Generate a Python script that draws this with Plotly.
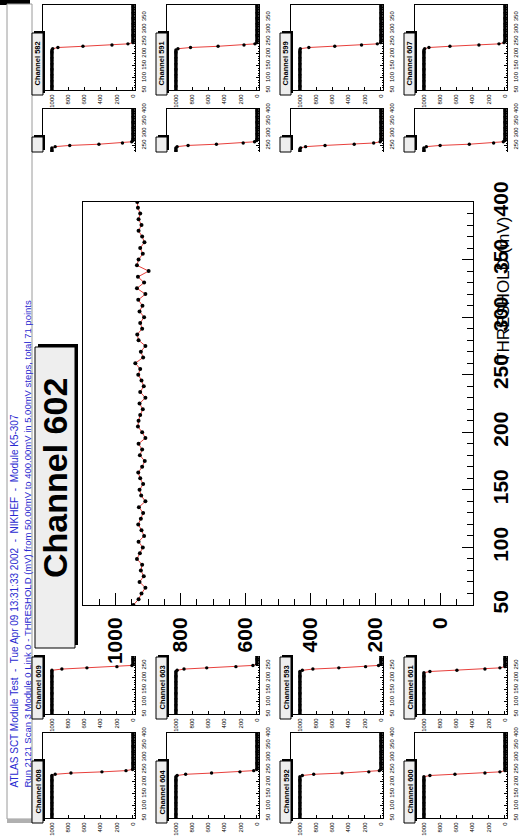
import plotly.graph_objects as go

W, H = 520, 839
RED = "#e8403c"
FONT = "Liberation Sans, Arial, Helvetica, sans-serif"

# ---------------- data ----------------
THRESHOLDS = [
    50, 55, 60, 65, 70, 75, 80, 85, 90, 95,
    100, 105, 110, 115, 120, 125, 130, 135, 140, 145,
    150, 155, 160, 165, 170, 175, 180, 185, 190, 195,
    200, 205, 210, 215, 220, 225, 230, 235, 240, 245,
    250, 255, 260, 265, 270, 275, 280, 285, 290, 295,
    300, 305, 310, 315, 320, 325, 330, 335, 340, 345,
    350, 355, 360, 365, 370, 375, 380, 385, 390, 395,
    400,
]

MAIN_LABEL = "Channel 602"
MAIN_COUNTS = [
    945, 929, 920, 908, 926, 913, 922, 918, 934, 925,
    916, 929, 912, 920, 930, 922, 915, 928, 908, 921,
    926, 915, 924, 930, 918, 910, 925, 918, 929, 908,
    918, 931, 929, 924, 916, 926, 908, 924, 913, 920,
    930, 924, 939, 915, 922, 908, 929, 933, 918, 924,
    912, 926, 917, 930, 908, 934, 912, 931, 898, 934,
    929, 916, 924, 911, 918, 929, 920, 929, 924, 931,
    933,
]

TITLE_LINE1 = "ATLAS SCT Module Test  -  Tue Apr 09 13:31:33 2002  -  NIKHEF  -  Module K5-307"
TITLE_LINE2 = ("Run 2121 Scan 3 Module 0 Link 0 - THRESHOLD (mV) from 50.00mV to 400.00mV "
               "in 5.00mV steps, total 71 points")
X_TITLE = "THRESHOLD (mV)"

COUNT_TICKS = [0, 200, 400, 600, 800, 1000]
THRESH_TICKS = [50, 100, 150, 200, 250, 300, 350, 400]

# neighbouring channels (S-curves)
CH582 = [
    1000, 1000, 1000, 1000, 1000, 1000, 1000, 1000, 1000, 1000,
    1000, 1000, 1000, 1000, 1000, 1000, 1000, 1000, 1000, 1000,
    1000, 1000, 1000, 1000, 1000, 1000, 1000, 1000, 1000, 1000,
    1000, 1000, 1000, 1000, 990, 926, 617, 259, 62, 0,
    0, 0, 0, 0, 0, 0, 0, 0, 0, 0,
    0, 0, 0, 0, 0, 0, 0, 0, 0, 0,
    0, 0, 0, 0, 0, 0, 0, 0, 0, 0,
    0,
]
CH591 = [
    1000, 1000, 1000, 1000, 1000, 1000, 1000, 1000, 1000, 1000,
    1000, 1000, 1000, 1000, 1000, 1000, 1000, 1000, 1000, 1000,
    1000, 1000, 1000, 1000, 1000, 1000, 1000, 1000, 1000, 1000,
    1000, 1000, 1000, 1000, 975, 820, 480, 160, 25, 2,
    0, 0, 0, 0, 0, 0, 0, 0, 0, 0,
    0, 0, 0, 0, 0, 0, 0, 0, 0, 0,
    0, 0, 0, 0, 0, 0, 0, 0, 0, 0,
    0,
]
CH599 = [
    1000, 1000, 1000, 1000, 1000, 1000, 1000, 1000, 1000, 1000,
    1000, 1000, 1000, 1000, 1000, 1000, 1000, 1000, 1000, 1000,
    1000, 1000, 1000, 1000, 1000, 1000, 1000, 1000, 1000, 1000,
    1000, 1000, 1000, 1000, 995, 890, 570, 240, 45, 4,
    0, 0, 0, 0, 0, 0, 0, 0, 0, 0,
    0, 0, 0, 0, 0, 0, 0, 0, 0, 0,
    0, 0, 0, 0, 0, 0, 0, 0, 0, 0,
    0,
]
CH607 = [
    1000, 1000, 1000, 1000, 1000, 1000, 1000, 1000, 1000, 1000,
    1000, 1000, 1000, 1000, 1000, 1000, 1000, 1000, 1000, 1000,
    1000, 1000, 1000, 1000, 1000, 1000, 1000, 1000, 1000, 1000,
    1000, 1000, 1000, 1000, 990, 938, 679, 321, 74, 12,
    0, 0, 0, 0, 0, 0, 0, 0, 0, 0,
    0, 0, 0, 0, 0, 0, 0, 0, 0, 0,
    0, 0, 0, 0, 0, 0, 0, 0, 0, 0,
    0,
]
CH583 = [
    1000, 1000, 1000, 1000, 1000, 1000, 1000, 1000, 1000, 1000,
    1000, 1000, 1000, 1000, 1000, 1000, 1000, 1000, 1000, 1000,
    1000, 1000, 1000, 1000, 1000, 1000, 1000, 1000, 1000, 1000,
    1000, 1000, 1000, 1000, 1000, 1000, 1000, 1000, 1000, 960,
    780, 420, 130, 15, 0, 0, 0, 0, 0, 0,
    0, 0, 0, 0, 0, 0, 0, 0, 0, 0,
    0, 0, 0, 0, 0, 0, 0, 0, 0, 0,
    0,
]
CH590 = [
    1000, 1000, 1000, 1000, 1000, 1000, 1000, 1000, 1000, 1000,
    1000, 1000, 1000, 1000, 1000, 1000, 1000, 1000, 1000, 1000,
    1000, 1000, 1000, 1000, 1000, 1000, 1000, 1000, 1000, 1000,
    1000, 1000, 1000, 1000, 1000, 1000, 1000, 1000, 1000, 985,
    850, 500, 170, 30, 3, 0, 0, 0, 0, 0,
    0, 0, 0, 0, 0, 0, 0, 0, 0, 0,
    0, 0, 0, 0, 0, 0, 0, 0, 0, 0,
    0,
]
CH598 = [
    1000, 1000, 1000, 1000, 1000, 1000, 1000, 1000, 1000, 1000,
    1000, 1000, 1000, 1000, 1000, 1000, 1000, 1000, 1000, 1000,
    1000, 1000, 1000, 1000, 1000, 1000, 1000, 1000, 1000, 1000,
    1000, 1000, 1000, 1000, 1000, 1000, 1000, 1000, 990, 930,
    690, 330, 90, 10, 0, 0, 0, 0, 0, 0,
    0, 0, 0, 0, 0, 0, 0, 0, 0, 0,
    0, 0, 0, 0, 0, 0, 0, 0, 0, 0,
    0,
]
CH606 = [
    1000, 1000, 1000, 1000, 1000, 1000, 1000, 1000, 1000, 1000,
    1000, 1000, 1000, 1000, 1000, 1000, 1000, 1000, 1000, 1000,
    1000, 1000, 1000, 1000, 1000, 1000, 1000, 1000, 1000, 1000,
    1000, 1000, 1000, 1000, 1000, 1000, 1000, 1000, 1000, 970,
    800, 440, 140, 20, 0, 0, 0, 0, 0, 0,
    0, 0, 0, 0, 0, 0, 0, 0, 0, 0,
    0, 0, 0, 0, 0, 0, 0, 0, 0, 0,
    0,
]
CH609 = [
    1000, 1000, 1000, 1000, 1000, 1000, 1000, 1000, 1000, 1000,
    1000, 1000, 1000, 1000, 1000, 1000, 1000, 1000, 1000, 1000,
    1000, 1000, 1000, 1000, 1000, 1000, 1000, 1000, 1000, 1000,
    1000, 1000, 1000, 1000, 1000, 1000, 1000, 877, 568, 198,
    12, 0, 0, 0, 0, 0, 0, 0, 0, 0,
    0, 0, 0, 0, 0, 0, 0, 0, 0, 0,
    0, 0, 0, 0, 0, 0, 0, 0, 0, 0,
    0,
]
CH603 = [
    1000, 1000, 1000, 1000, 1000, 1000, 1000, 1000, 1000, 1000,
    1000, 1000, 1000, 1000, 1000, 1000, 1000, 1000, 1000, 1000,
    1000, 1000, 1000, 1000, 1000, 1000, 1000, 1000, 1000, 1000,
    1000, 1000, 1000, 1000, 1000, 1000, 985, 900, 620, 260,
    50, 3, 0, 0, 0, 0, 0, 0, 0, 0,
    0, 0, 0, 0, 0, 0, 0, 0, 0, 0,
    0, 0, 0, 0, 0, 0, 0, 0, 0, 0,
    0,
]
CH593 = [
    1000, 1000, 1000, 1000, 1000, 1000, 1000, 1000, 1000, 1000,
    1000, 1000, 1000, 1000, 1000, 1000, 1000, 1000, 1000, 1000,
    1000, 1000, 1000, 1000, 1000, 1000, 1000, 1000, 1000, 1000,
    1000, 1000, 1000, 1000, 1000, 1000, 970, 840, 520, 190,
    30, 0, 0, 0, 0, 0, 0, 0, 0, 0,
    0, 0, 0, 0, 0, 0, 0, 0, 0, 0,
    0, 0, 0, 0, 0, 0, 0, 0, 0, 0,
    0,
]
CH601 = [
    1000, 1000, 1000, 1000, 1000, 1000, 1000, 1000, 1000, 1000,
    1000, 1000, 1000, 1000, 1000, 1000, 1000, 1000, 1000, 1000,
    1000, 1000, 1000, 1000, 1000, 1000, 1000, 1000, 1000, 1000,
    1000, 1000, 1000, 1000, 1000, 926, 593, 247, 62, 0,
    0, 0, 0, 0, 0, 0, 0, 0, 0, 0,
    0, 0, 0, 0, 0, 0, 0, 0, 0, 0,
    0, 0, 0, 0, 0, 0, 0, 0, 0, 0,
    0,
]
CH608 = [
    1000, 1000, 1000, 1000, 1000, 1000, 1000, 1000, 1000, 1000,
    1000, 1000, 1000, 1000, 1000, 1000, 1000, 1000, 1000, 1000,
    1000, 1000, 1000, 1000, 1000, 1000, 1000, 1000, 1000, 1000,
    1000, 1000, 1000, 1000, 1000, 1000, 960, 765, 383, 86,
    5, 0, 0, 0, 0, 0, 0, 0, 0, 0,
    0, 0, 0, 0, 0, 0, 0, 0, 0, 0,
    0, 0, 0, 0, 0, 0, 0, 0, 0, 0,
    0,
]
CH604 = [
    1000, 1000, 1000, 1000, 1000, 1000, 1000, 1000, 1000, 1000,
    1000, 1000, 1000, 1000, 1000, 1000, 1000, 1000, 1000, 1000,
    1000, 1000, 1000, 1000, 1000, 1000, 1000, 1000, 1000, 1000,
    1000, 1000, 1000, 1000, 1000, 985, 880, 560, 210, 40,
    2, 0, 0, 0, 0, 0, 0, 0, 0, 0,
    0, 0, 0, 0, 0, 0, 0, 0, 0, 0,
    0, 0, 0, 0, 0, 0, 0, 0, 0, 0,
    0,
]
CH592 = [
    1000, 1000, 1000, 1000, 1000, 1000, 1000, 1000, 1000, 1000,
    1000, 1000, 1000, 1000, 1000, 1000, 1000, 1000, 1000, 1000,
    1000, 1000, 1000, 1000, 1000, 1000, 1000, 1000, 1000, 1000,
    1000, 1000, 1000, 1000, 1000, 970, 830, 480, 150, 20,
    0, 0, 0, 0, 0, 0, 0, 0, 0, 0,
    0, 0, 0, 0, 0, 0, 0, 0, 0, 0,
    0, 0, 0, 0, 0, 0, 0, 0, 0, 0,
    0,
]
CH600 = [
    1000, 1000, 1000, 1000, 1000, 1000, 1000, 1000, 1000, 1000,
    1000, 1000, 1000, 1000, 1000, 1000, 1000, 1000, 1000, 1000,
    1000, 1000, 1000, 1000, 1000, 1000, 1000, 1000, 1000, 1000,
    1000, 1000, 1000, 1000, 1000, 926, 617, 247, 62, 0,
    0, 0, 0, 0, 0, 0, 0, 0, 0, 0,
    0, 0, 0, 0, 0, 0, 0, 0, 0, 0,
    0, 0, 0, 0, 0, 0, 0, 0, 0, 0,
    0,
]

# (label, counts, column, row, visibility)
PANELS = [
    ("Channel 582", CH582, 0, 0, "full"),
    ("Channel 591", CH591, 1, 0, "full"),
    ("Channel 599", CH599, 2, 0, "full"),
    ("Channel 607", CH607, 3, 0, "full"),
    ("Channel 583", CH583, 0, 1, "top"),
    ("Channel 590", CH590, 1, 1, "top"),
    ("Channel 598", CH598, 2, 1, "top"),
    ("Channel 606", CH606, 3, 1, "top"),
    ("Channel 609", CH609, 0, 6, "bottom"),
    ("Channel 603", CH603, 1, 6, "bottom"),
    ("Channel 593", CH593, 2, 6, "bottom"),
    ("Channel 601", CH601, 3, 6, "bottom"),
    ("Channel 608", CH608, 0, 7, "full"),
    ("Channel 604", CH604, 1, 7, "full"),
    ("Channel 592", CH592, 2, 7, "full"),
    ("Channel 600", CH600, 3, 7, "full"),
]
for _lab, _c, _a, _b, _v in PANELS:
    assert len(_c) == len(THRESHOLDS), _lab
assert len(MAIN_COUNTS) == len(THRESHOLDS)

# ---------------- geometry (pixels) ----------------
COL_LEFT = [43, 167, 291, 415]
PANEL_W = 92
ROW_TOP = [5, 109, 213, 317, 421, 525, 629, 733]
PANEL_H = 85
PAD_TOP, PAD_BOTTOM = 152, 656          # main pad hides the rest
MAIN_FRAME = dict(left=83, right=473, top=202, bottom=605)


def fx(p):
    return p / W


def fy(p):
    return 1 - p / H


T0, T1 = THRESHOLDS[0], THRESHOLDS[-1]
TSPAN = T1 - T0

fig = go.Figure()
layout = dict(
    template="none",
    width=W, height=H, autosize=False,
    margin=dict(l=0, r=0, t=0, b=0, pad=0),
    paper_bgcolor="white", plot_bgcolor="rgba(0,0,0,0)",
    showlegend=False,
)
shapes = []
annotations = []

# ---------------- title pave ----------------
shapes.append(dict(type="rect", xref="paper", yref="paper",
                   x0=fx(0), x1=fx(30), y0=fy(5), y1=fy(0),
                   fillcolor="black", line=dict(width=0), layer="below"))
shapes.append(dict(type="rect", xref="paper", yref="paper",
                   x0=fx(7), x1=fx(32), y0=fy(819), y1=fy(4),
                   fillcolor="white", line=dict(color="#9a9a9a", width=1), layer="below"))
shapes.append(dict(type="rect", xref="paper", yref="paper",
                   x0=fx(7), x1=fx(33), y0=fy(823), y1=fy(819),
                   fillcolor="#b0b0b0", line=dict(width=0), layer="below"))
for txt, xc, ystart, fs in [(TITLE_LINE1, 14, 790, 10), (TITLE_LINE2, 27, 790, 9.5)]:
    annotations.append(dict(text=txt, xref="paper", yref="paper", x=fx(xc), y=fy(ystart),
                            xanchor="center", yanchor="bottom", textangle=-90, showarrow=False,
                            font=dict(family=FONT, size=fs, color="#2a2ad0")))

# ---------------- main plot ----------------
fig.add_trace(go.Scatter(
    x=MAIN_COUNTS, y=THRESHOLDS, xaxis="x", yaxis="y", mode="lines+markers",
    line=dict(color=RED, width=1), marker=dict(color="black", size=4),
    hoverinfo="skip"))

big_font = dict(family=FONT, size=21, color="black", weight="bold")
layout["xaxis"] = dict(
    domain=[fx(MAIN_FRAME["left"]), fx(MAIN_FRAME["right"])], range=[1100, -100],
    anchor="y", showgrid=False, zeroline=False, showline=True, linecolor="black",
    linewidth=1, mirror=True, tickmode="array", tickvals=COUNT_TICKS,
    ticktext=[str(v) for v in COUNT_TICKS], ticks="inside", ticklen=12,
    tickcolor="black", tickwidth=1, automargin=False,
    minor=dict(ticks="inside", ticklen=6, dtick=50, tick0=0, tickcolor="black"),
    tickangle=-90, tickfont=big_font, ticklabelstandoff=3)
layout["yaxis"] = dict(
    domain=[fy(MAIN_FRAME["bottom"]), fy(MAIN_FRAME["top"])], range=[T0, T1],
    anchor="x", side="right", showgrid=False, zeroline=False, showline=True,
    linecolor="black", linewidth=1, mirror=True, tickmode="array",
    tickvals=THRESH_TICKS, ticktext=[str(v) for v in THRESH_TICKS],
    ticks="inside", ticklen=11, tickcolor="black", tickwidth=1, automargin=False,
    minor=dict(ticks="inside", ticklen=6, dtick=10, tick0=50, tickcolor="black"),
    tickangle=-90, tickfont=big_font, ticklabelstandoff=9)
annotations.append(dict(text=X_TITLE, xref="paper", yref="paper", x=fx(504), y=fy(290),
                        xanchor="center", yanchor="middle", textangle=-90, showarrow=False,
                        font=dict(family=FONT, size=17, color="black")))

# main label box with shadow (top/right)
shapes.append(dict(type="rect", xref="paper", yref="paper",
                   x0=fx(38), x1=fx(78), y0=fy(645), y1=fy(344),
                   fillcolor="black", line=dict(width=0), layer="above"))
shapes.append(dict(type="rect", xref="paper", yref="paper",
                   x0=fx(35), x1=fx(75), y0=fy(648), y1=fy(347),
                   fillcolor="#eeeeee", line=dict(color="black", width=1), layer="above"))
annotations.append(dict(text=MAIN_LABEL, xref="paper", yref="paper", x=fx(55), y=fy(478),
                        xanchor="center", yanchor="middle", textangle=-90, showarrow=False,
                        font=dict(family=FONT, size=34, color="black", weight="bold")))

# ---------------- small panels ----------------
small_font = dict(family=FONT, size=6, color="black")
for i, (label, counts, col, row, vis) in enumerate(PANELS):
    k = i + 2
    left = COL_LEFT[col]
    right = left + PANEL_W
    top = ROW_TOP[row]
    bottom = top + PANEL_H
    if vis == "full":
        d_top, d_bot, yr = top, bottom, [T0, T1]
    elif vis == "top":
        d_top, d_bot = top, PAD_TOP
        yr = [T1 - (PAD_TOP - top) * TSPAN / PANEL_H, T1]
    else:
        d_top, d_bot = PAD_BOTTOM, bottom
        yr = [T0, T0 + (bottom - PAD_BOTTOM) * TSPAN / PANEL_H]

    xa = dict(domain=[fx(left), fx(right)], range=[1110, -25], anchor=f"y{k}",
              showgrid=False, zeroline=False, showline=True, linecolor="black",
              linewidth=1, tickmode="array", tickvals=COUNT_TICKS,
              ticktext=[str(v) for v in COUNT_TICKS], ticks="inside", ticklen=3,
              tickcolor="black", tickangle=-90, tickfont=small_font,
              ticklabelstandoff=1, automargin=False)
    if vis == "top":
        xa.update(side="top", ticks="", showticklabels=False, mirror=False)
    elif vis == "bottom":
        xa.update(mirror=False)
    else:
        xa.update(mirror=True)
    ya = dict(domain=[fy(d_bot), fy(d_top)], range=yr, anchor=f"x{k}", side="right",
              showgrid=False, zeroline=False, showline=True, linecolor="black",
              linewidth=1, mirror=True, tickmode="array", tickvals=THRESH_TICKS,
              ticktext=[str(v) for v in THRESH_TICKS], ticks="inside", ticklen=3,
              tickcolor="black", automargin=False,
              minor=dict(ticks="inside", ticklen=1.5, dtick=10, tick0=50, tickcolor="black"),
              tickangle=-90, tickfont=small_font, ticklabelstandoff=3)
    layout[f"xaxis{k}"] = xa
    layout[f"yaxis{k}"] = ya

    fig.add_trace(go.Scatter(
        x=counts, y=THRESHOLDS, xaxis=f"x{k}", yaxis=f"y{k}", mode="lines+markers",
        line=dict(color=RED, width=1), marker=dict(color="black", size=3.4),
        hoverinfo="skip"))

    # label box
    b_top = top + 28
    b_bot = min(bottom + 5, H) if vis != "top" else PAD_TOP
    shapes.append(dict(type="rect", xref="paper", yref="paper",
                       x0=fx(left - 9), x1=fx(left + 2), y0=fy(b_bot - 2), y1=fy(b_top - 2),
                       fillcolor="black", line=dict(width=0), layer="above"))
    shapes.append(dict(type="rect", xref="paper", yref="paper",
                       x0=fx(left - 11), x1=fx(left), y0=fy(b_bot), y1=fy(b_top),
                       fillcolor="#eeeeee", line=dict(color="black", width=1), layer="above"))
    if vis != "top":
        annotations.append(dict(text=label, xref="paper", yref="paper",
                                x=fx(left - 5.5), y=fy((b_top + b_bot) / 2),
                                xanchor="center", yanchor="middle", textangle=-90,
                                showarrow=False,
                                font=dict(family=FONT, size=7.5, color="black", weight="bold")))

layout["shapes"] = shapes
layout["annotations"] = annotations
fig.update_layout(**layout)
fig.write_html("out.html")
